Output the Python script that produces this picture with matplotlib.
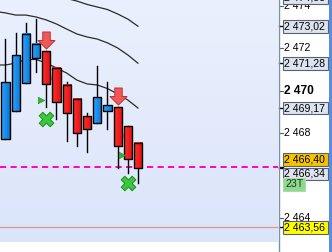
import numpy as np
import matplotlib
matplotlib.use("Agg")
import matplotlib.pyplot as plt
from matplotlib.patches import Rectangle
from matplotlib.lines import Line2D
from matplotlib.path import Path

plt.rcParams['font.family'] = ['Liberation Sans', 'DejaVu Sans']

# ---- data ----
opens  = [2467.72, 2469.05, 2470.35, 2471.53, 2471.86, 2471.06, 2470.26, 2469.60, 2468.80, 2468.47, 2469.04, 2469.22, 2468.33, 2467.53]
highs  = [2472.42, 2472.71, 2473.18, 2473.36, 2471.86, 2471.06, 2470.40, 2469.60, 2468.94, 2471.15, 2470.40, 2469.22, 2468.33, 2467.53]
lows   = [2467.72, 2469.05, 2470.35, 2470.87, 2469.22, 2468.66, 2467.62, 2467.39, 2467.11, 2468.47, 2468.19, 2466.35, 2466.12, 2465.65]
closes = [2470.40, 2471.67, 2472.66, 2472.19, 2470.31, 2469.46, 2468.94, 2468.00, 2468.19, 2469.69, 2469.32, 2467.39, 2466.78, 2466.34]

band_x     = [-0.54, 0, 1, 2, 3, 4, 5, 6, 7, 8, 9, 10, 11, 12, 13]
band_upper = [2475.3, 2475.2, 2475.05, 2474.9, 2474.75, 2474.6, 2474.45, 2474.33, 2474.21, 2474.05, 2473.93, 2473.81, 2473.60, 2473.36, 2473.02]
band_mid   = [2473.69, 2473.65, 2473.55, 2473.55, 2473.46, 2473.32, 2473.13, 2472.89, 2472.66, 2472.52, 2472.42, 2472.24, 2472.00, 2471.67, 2471.28]
band_lower = [2471.20, 2471.20, 2471.29, 2471.46, 2471.46, 2471.29, 2471.06, 2470.82, 2470.49, 2470.31, 2470.26, 2470.09, 2469.84, 2469.55, 2469.17]

sell_arrow_idx   = [4, 11]
sell_arrow_price = [2472.38, 2469.74]
buy_x_idx        = [4, 12]
buy_x_price      = [2468.68, 2465.67]
green_tri_idx    = [4, 12]
green_tri_price  = [2469.55, 2466.96]
red_tri_idx      = [5, 12]
red_tri_price    = [2470.59, 2467.86]

level_magenta = 2466.40
level_red     = 2463.56

tick_values = [2474, 2472, 2470, 2468, 2464]
tick_labels = ["2 474", "2 472", "2 470", "2 468", "2 464"]

box_prices = [2474.38, 2473.02, 2471.28, 2469.17, 2466.40, 2466.34, 2463.56]
box_texts  = ["2 474,38", "2 473,02", "2 471,28", "2 469,17", "2 466,40", "2 466,34", "2 463,56"]
box_fills  = ["#DDE4F0", "#DDE4F0", "#DDE4F0", "#DDE4F0", "#F5C400", "#DDE4F0", "#FFFF00"]
box_shift  = [0, 0, 0, 0, 7.5, -5.5, 0]   # pixel shift upward to avoid overlap
timeframe_label = "23T"
timeframe_price = 2465.58

# ---- figure ----
W, H = 332, 252
fig = plt.figure(figsize=(W/100, H/100), dpi=100)
fig.patch.set_facecolor("white")

plot_right = 278
plot_bottom = 242
ax = fig.add_axes([0, (H-plot_bottom)/H, plot_right/W, plot_bottom/H])
ymin, ymax = 2462.871, 2474.259
xmin, xmax = -0.539, 26.716
ax.axis("off")

# gradient background
grad = np.linspace(0, 1, 256).reshape(-1, 1)
top = np.array([234, 240, 253]) / 255
bot = np.array([219, 229, 250]) / 255
img = top[None, None, :] * (1 - grad[:, :, None]) + bot[None, None, :] * grad[:, :, None]
ax.imshow(img, extent=[xmin, xmax, ymin, ymax], aspect="auto", origin="upper", zorder=0)

# bands
for band in (band_upper, band_mid, band_lower):
    ax.plot(band_x, band, color="#2a2a2a", lw=0.9, zorder=2, solid_capstyle="round")

# levels
ax.axhline(level_magenta, color="#FF00CC", lw=1.4, ls=(0, (3.2, 2.2)), zorder=3)
ax.axhline(level_red, color="#E89090", lw=0.9, zorder=1)

# candles (with horizontal gradient fill)
bw = 0.82
hgrad = np.linspace(0, 1, 32).reshape(1, -1)
def grad_img(c1, c2):
    c1 = np.array(matplotlib.colors.to_rgb(c1)); c2 = np.array(matplotlib.colors.to_rgb(c2))
    return c1[None, None, :] * (1 - hgrad[:, :, None]) + c2[None, None, :] * hgrad[:, :, None]
blue_img = grad_img("#2AA8FF", "#0E74D4")
red_img = grad_img("#FF3030", "#E01010")
for i, (o, h, l, c) in enumerate(zip(opens, highs, lows, closes)):
    up = c >= o
    ax.plot([i, i], [l, h], color="black", lw=1.0, zorder=4)
    lo, hi = min(o, c), max(o, c)
    ax.imshow(blue_img if up else red_img, extent=[i - bw/2, i + bw/2, lo, hi],
              aspect="auto", zorder=5)
    ax.add_patch(Rectangle((i - bw/2, lo), bw, hi - lo, facecolor="none",
                           edgecolor="black", lw=1.0, zorder=5.5))
ax.set_xlim(xmin, xmax)
ax.set_ylim(ymin, ymax)

# signals
arrow = Path([(-0.22, 0.5), (0.22, 0.5), (0.22, 0.0), (0.5, 0.0), (0.0, -0.5),
              (-0.5, 0.0), (-0.22, 0.0), (-0.22, 0.5)], closed=True)
ax.scatter(sell_arrow_idx, sell_arrow_price, marker=arrow, s=150, facecolor="#F05858",
           edgecolor="#C03030", lw=0.7, zorder=7)
ax.scatter(buy_x_idx, buy_x_price, marker="X", s=110, facecolor="#3CC83C",
           edgecolor="#1E8C1E", lw=0.7, zorder=7)
ax.scatter(np.array(green_tri_idx) - 0.55, green_tri_price, marker=">", s=22,
           facecolor="#30B830", edgecolor="#1E8C1E", lw=0.4, zorder=6)
ax.scatter(np.array(red_tri_idx) - 0.58, red_tri_price, marker="<", s=22,
           facecolor="#F07070", edgecolor="none", alpha=0.85, zorder=4.5)

# ---- right price panel ----
rax = fig.add_axes([plot_right/W, (H-plot_bottom)/H, (W-plot_right)/W, plot_bottom/H])
rax.set_xlim(0, W - plot_right)
rax.set_ylim(ymin, ymax)
rax.axis("off")
ppu = 21.25  # pixels per price unit

for v, t in zip(tick_values, tick_labels):
    bold = (v == 2470)
    rax.plot([1.5, 4.5], [v, v], color="#606060", lw=0.8, clip_on=False, zorder=2)
    rax.text(6.5, v, t, fontsize=8.6 if bold else 7.6, fontweight="bold" if bold else "normal",
             ha="left", va="center", color="black", clip_on=False, zorder=2)

for p, t, fc, sh in zip(box_prices, box_texts, box_fills, box_shift):
    yc = p + sh / ppu
    rax.plot([1, 5], [p, p], color="black", lw=1.0, clip_on=False, zorder=3)
    rax.add_patch(Rectangle((5, yc - 6.2/ppu), 45, 12.4/ppu, facecolor=fc, edgecolor="#5a6070",
                            lw=0.8, clip_on=False, zorder=4))
    rax.text(6.5, yc, t, fontsize=7.6, ha="left", va="center", color="black",
             clip_on=False, zorder=5)

rax.add_patch(Rectangle((5, timeframe_price - 6.2/ppu), 22, 12.4/ppu, facecolor="#90D890",
                        edgecolor="#A8DCA8", lw=0.8, clip_on=False, zorder=4))
rax.text(7, timeframe_price, timeframe_label, fontsize=7.6, ha="left", va="center",
         color="#1a3a1a", clip_on=False, zorder=5)

# axis line and right strip
fig.add_artist(Line2D([(plot_right + 0.5)/W]*2, [0, 1], color="#7890A8", lw=1.0))
fig.add_artist(Rectangle(((W - 3.5)/W, 0), 3.5/W, 1, facecolor="#5A8CE0", edgecolor="none",
                         transform=fig.transFigure))

fig.savefig("out.png", dpi=100)
